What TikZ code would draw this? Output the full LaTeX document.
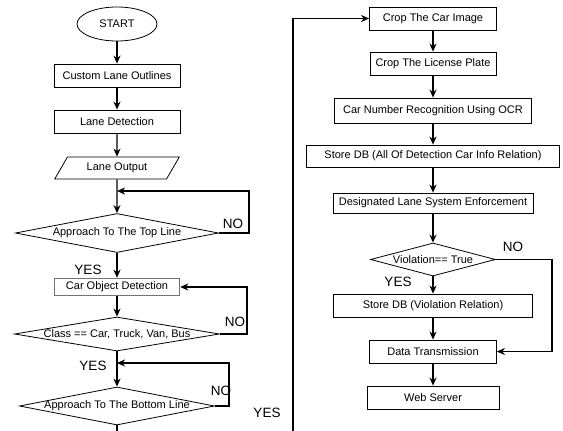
\documentclass[tikz,border=0pt]{standalone}
\usepackage{fontspec}
\setmainfont{Liberation Sans}
\usetikzlibrary{arrows.meta, positioning, shapes.geometric}
\tikzset{
    process/.style={draw, rectangle, line width=0.8pt, inner sep=0pt, minimum height=23pt, font=\fontsize{11}{13}\selectfont},
    decision/.style={draw, diamond, line width=0.8pt, inner sep=0pt, font=\fontsize{11}{13}\selectfont},
    terminal/.style={draw, ellipse, line width=0.8pt, inner sep=0pt, font=\fontsize{11}{13}\selectfont},
    io/.style={draw, trapezium, trapezium left angle=52, trapezium right angle=128, trapezium stretches=true, line width=0.8pt, inner sep=0pt, font=\fontsize{11}{13}\selectfont},
    flow/.style={-{Stealth[length=8pt, width=7pt, inset=2.5pt]}, line width=1.2pt},
    answer/.style={font=\fontsize{13.5}{15}\selectfont},
    every label/.append style={font=\fontsize{11}{13}\selectfont, inner sep=0pt}
}
\begin{document}
\begin{tikzpicture}[x=1pt, y=-1pt]
    \clip (0,0) rectangle (563,431);
    \node[terminal, minimum width=80pt, minimum height=34pt] (start) at (117,24) {START};
    \node[process, minimum width=126pt] (outlines) at (117,75.5) {Custom Lane Outlines};
    \node[process, minimum width=126pt] (lanedet) at (117,121.5) {Lane Detection};
    \node[io, minimum width=125pt, minimum height=22pt] (laneout) at (117,168) {Lane Output};
    \node[decision, minimum width=203pt, minimum height=39pt, label=center:{Approach To The Top Line}] (topline) at (117,233) {};
    \node[process, draw=black!55, line width=1.5pt, minimum width=125pt, minimum height=17pt] (cardet) at (117,287) {Car Object Detection};
    \node[decision, minimum width=205pt, minimum height=34pt, label=center:{Class == Car, Truck, Van, Bus}] (classchk) at (117,334) {};
    \node[decision, minimum width=195pt, minimum height=38pt, label=center:{Approach To The Bottom Line}] (botline) at (117,406) {};
    \coordinate (j1) at (117,191);
    \coordinate (j2) at (117,363);
    \coordinate (j3) at (293,450);

    \node[process, minimum width=127pt] (cropcar) at (433,18.5) {Crop The Car Image};
    \node[process, minimum width=126pt] (cropplate) at (433,63.5) {Crop The License Plate};
    \node[process, minimum width=197pt, minimum height=25pt] (ocr) at (433,110.5) {Car Number Recognition Using OCR};
    \node[process, minimum width=253pt, minimum height=22pt] (storeall) at (433,156) {Store DB (All Of Detection Car Info Relation)};
    \node[process, minimum width=200pt, minimum height=20pt] (enforce) at (433,203) {Designated Lane System Enforcement};
    \node[decision, minimum width=125pt, minimum height=33pt, label=center:{Violation== True}] (viol) at (433,259.5) {};
    \node[process, minimum width=199pt] (storeviol) at (433,305.5) {Store DB (Violation Relation)};
    \node[process, minimum width=127pt] (datatx) at (433,351.5) {Data Transmission};
    \node[process, minimum width=132pt] (websrv) at (433,397.5) {Web Server};

    \node[answer] (no1) at (233,224) {NO};
    \node[answer] (yes1) at (88,270) {YES};
    \node[answer] (no2) at (235,322) {NO};
    \node[answer] (yes2) at (93,366) {YES};
    \node[answer] (no3) at (221,391) {NO};
    \node[answer] (yes3) at (267,413) {YES};
    \node[answer] (no4) at (513,247) {NO};
    \node[answer] (yes4) at (398,282) {YES};

    \draw[flow] (start) -- (outlines);
    \draw[flow] (outlines) -- (lanedet);
    \draw[flow] (lanedet) -- (laneout);
    \draw[flow] (laneout) -- (topline);
    \draw[flow] (topline.east) -- ++(30,0) |- (j1);
    \draw[flow] (topline) -- (cardet);
    \draw[flow] (cardet) -- (classchk);
    \draw[flow] (classchk.east) -- ++(27,0) |- (cardet.east);
    \draw[flow] (classchk) -- (botline);
    \draw[flow] (botline.east) -- ++(14,0) |- (j2);
    \draw[flow] (botline.south) |- (j3) |- (cropcar.west);

    \draw[flow] (cropcar) -- (cropplate);
    \draw[flow] (cropplate) -- (ocr);
    \draw[flow] (ocr) -- (storeall);
    \draw[flow] (storeall) -- (enforce);
    \draw[flow] (enforce) -- (viol);
    \draw[flow] (viol) -- (storeviol);
    \draw[flow] (viol.east) -- ++(56,0) |- (datatx.east);
    \draw[flow] (storeviol) -- (datatx);
    \draw[flow] (datatx) -- (websrv);
\end{tikzpicture}
\end{document}
